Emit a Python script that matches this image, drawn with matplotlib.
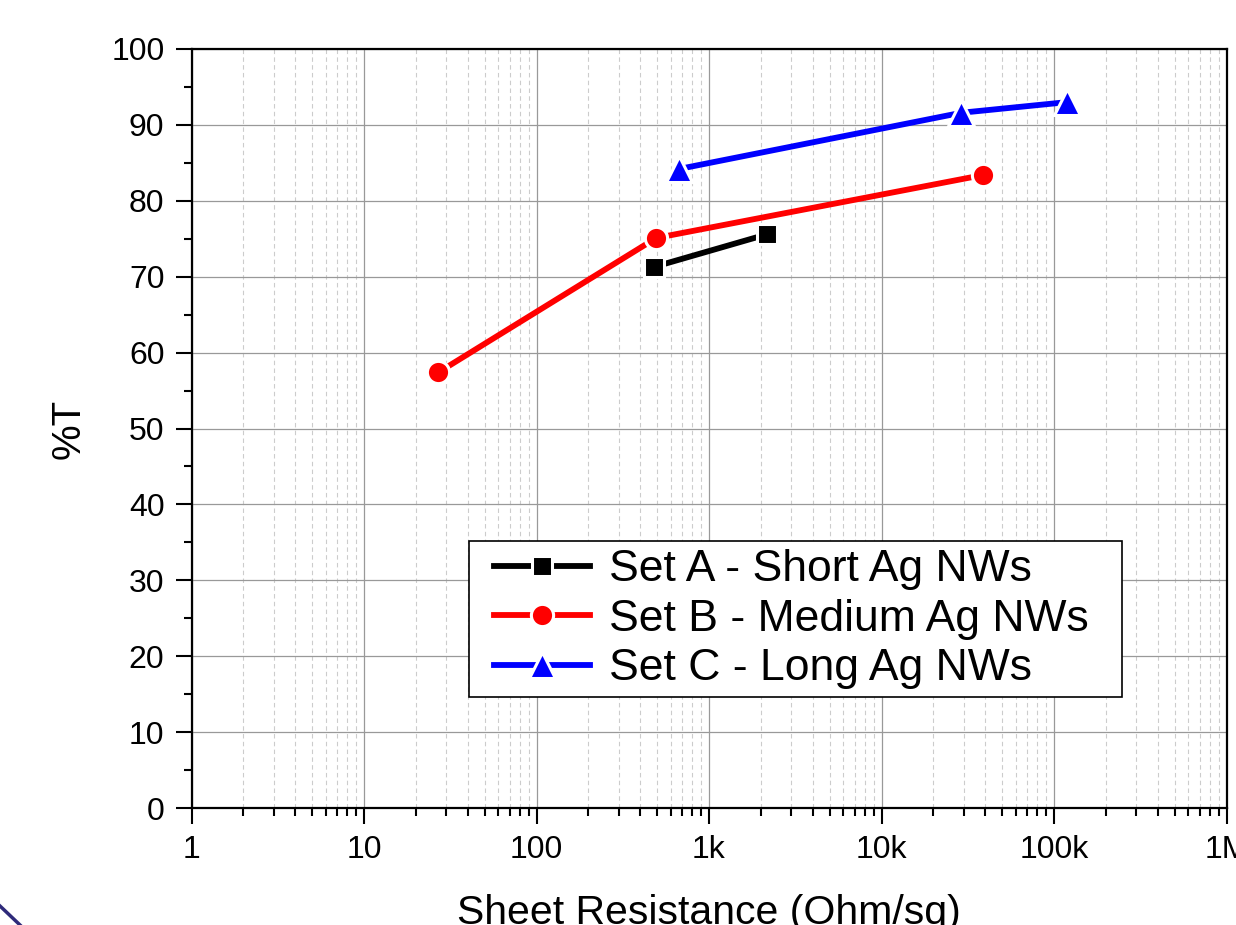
import matplotlib
matplotlib.use("Agg")
import matplotlib.pyplot as plt
from matplotlib.lines import Line2D
from matplotlib.legend_handler import HandlerLine2D
from matplotlib.ticker import FixedLocator, FixedFormatter, LogLocator, NullFormatter, MultipleLocator

plt.rcParams['font.family'] = ['Liberation Sans', 'DejaVu Sans']

# Data
set_a_x = [482, 2180]
set_a_y = [71.3, 75.6]
set_b_x = [27.0, 494, 38900]
set_b_y = [57.4, 75.1, 83.4]
set_c_x = [673, 29000, 119000]
set_c_y = [84.2, 91.6, 93.0]

labels = ["Set A - Short Ag NWs", "Set B - Medium Ag NWs", "Set C - Long Ag NWs"]
x_tick_vals = [1, 10, 100, 1e3, 1e4, 1e5, 1e6]
x_tick_labels = ["1", "10", "100", "1k", "10k", "100k", "1M"]
y_tick_vals = [0, 10, 20, 30, 40, 50, 60, 70, 80, 90, 100]

fig = plt.figure(figsize=(12.36, 9.25), dpi=100)
ax = fig.add_axes([191.5/1236, 1 - 808/925, (1226.5-191.5)/1236, (808-49)/925])

l1, = ax.plot(set_a_x, set_a_y, color='black', lw=4.2, marker='s', ms=14,
              mec='white', mew=2.2, label=labels[0], zorder=5)
l2, = ax.plot(set_b_x, set_b_y, color='red', lw=4.2, marker='o', ms=16,
              mec='white', mew=2.2, label=labels[1], zorder=5)
l3, = ax.plot(set_c_x, set_c_y, color='blue', lw=4.2, marker='^', ms=19,
              mec='white', mew=2.2, label=labels[2], zorder=5)

ax.set_xscale('log')
ax.set_xlim(1, 1e6)
ax.set_ylim(0, 100)

ax.xaxis.set_major_locator(FixedLocator(x_tick_vals))
ax.xaxis.set_major_formatter(FixedFormatter(x_tick_labels))
ax.xaxis.set_minor_locator(LogLocator(base=10, subs=range(2, 10), numticks=20))
ax.xaxis.set_minor_formatter(NullFormatter())
ax.yaxis.set_major_locator(FixedLocator(y_tick_vals))
ax.yaxis.set_minor_locator(MultipleLocator(5))

ax.tick_params(which='major', direction='out', length=11.5, width=1.5,
               labelsize=23, pad=8, top=False, right=False)
ax.tick_params(which='minor', direction='out', length=6, width=1.5,
               top=False, right=False)

ax.grid(which='major', axis='both', color='#999999', lw=0.9, ls='-', zorder=0)
ax.grid(which='minor', axis='x', color='#cccccc', lw=0.8, ls=(0, (4, 3)), zorder=0)
ax.set_axisbelow(True)

for s in ax.spines.values():
    s.set_linewidth(1.6)
    s.set_color('black')

ax.set_ylabel('%T', fontsize=29, labelpad=17)
ax.set_xlabel('Sheet Resistance (Ohm/sq)', fontsize=29.5, labelpad=21)

hmap = {l: HandlerLine2D(xpad=0.38) for l in (l1, l2, l3)}
leg = ax.legend(loc='lower left', bbox_to_anchor=(0.2681, 0.146, 0.631, 0.2),
                mode='expand', fontsize=32, handler_map=hmap,
                frameon=True, fancybox=False, edgecolor='black', framealpha=1,
                numpoints=1, handlelength=2.55, handletextpad=0.43,
                borderpad=0.18, labelspacing=0.19, borderaxespad=0)
leg.get_frame().set_linewidth(1.2)
for h in leg.legend_handles:
    h.set_linewidth(4.2)

# decorative arc at bottom-left corner
fig.add_artist(Line2D([0, 20/1236], [1 - 906/925, 0], color='#2e2a7a', lw=2.5,
                      transform=fig.transFigure))

fig.savefig('out.png', dpi=100)
